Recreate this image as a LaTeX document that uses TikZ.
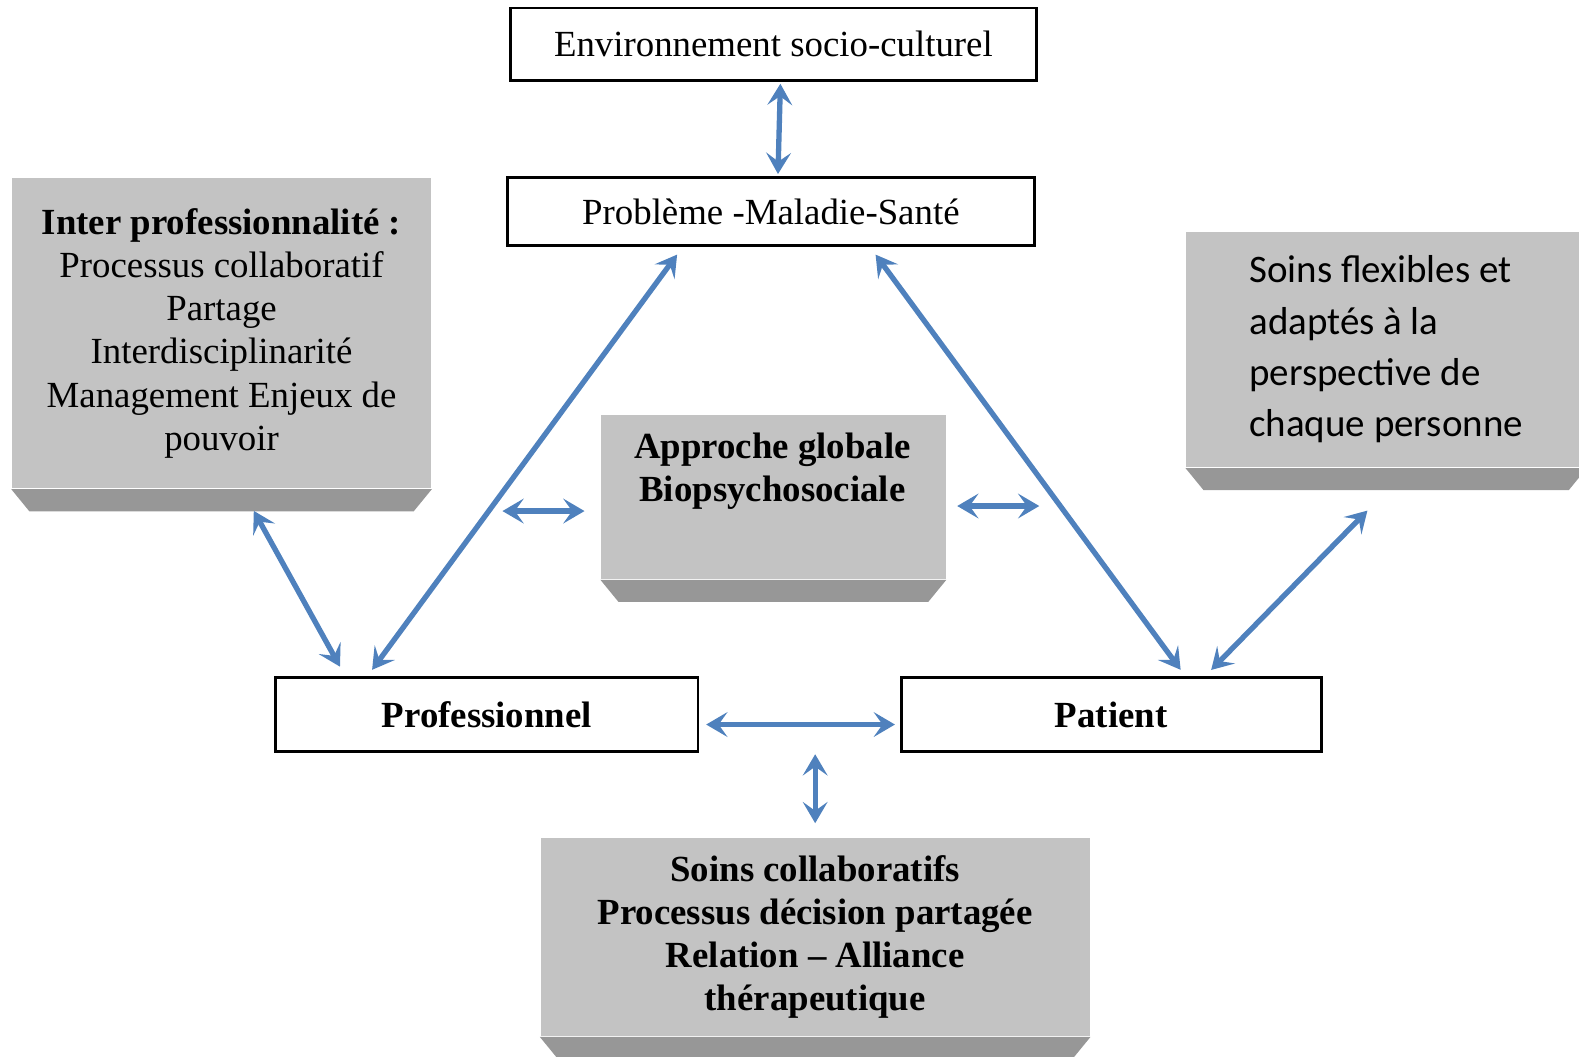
\documentclass[tikz,border=0pt]{standalone}
\usepackage{fontspec}
\setmainfont{Liberation Serif}
\newfontfamily\calibrifont{Carlito}
\usetikzlibrary{positioning,arrows.meta,calc}
\definecolor{arrowblue}{HTML}{4F81BD}
\definecolor{boxgray}{HTML}{C3C3C3}
\definecolor{bevelgray}{HTML}{979797}

\begin{document}
\begin{tikzpicture}[
    x=0.01cm, y=-0.01cm,
    whitebox/.style={draw, thick, fill=white, inner sep=0pt,
                     font=\fontsize{10.4}{12.2}\selectfont},
    graybox/.style={fill=boxgray, inner sep=0pt, align=center,
                    font=\fontsize{10.4}{12.2}\selectfont},
    link/.style={arrowblue, line width=1.5pt,
                 {Stealth[length=6pt,width=7pt,inset=2.5pt]}-{Stealth[length=6pt,width=7pt,inset=2.5pt]},
                 shorten <=0.5pt, shorten >=0.5pt},
]
\useasboundingbox (0,0) rectangle (1568,1049);

% white boxes
\node[whitebox, minimum width=5.22cm, minimum height=0.72cm] (env) at (768,44)
    {Environnement socio-culturel};
\node[whitebox, minimum width=5.23cm, minimum height=0.68cm] (prob) at (765.5,210)
    {Problème -Maladie-Santé};
\node[whitebox, minimum width=4.19cm, minimum height=0.73cm] (prof) at (483.5,709.5)
    {\textbf{Professionnel}};
\node[whitebox, minimum width=4.17cm, minimum height=0.73cm] (patient) at (1103.5,709.5)
    {\textbf{Patient}};

% gray boxes
\node[graybox, minimum width=4.16cm, minimum height=3.08cm] (inter) at (220,331)
    {\textbf{Inter professionnalité :}\\Processus collaboratif\\Partage\\
     Interdisciplinarité\\Management Enjeux de\\pouvoir};
\node[graybox, minimum width=3.42cm, minimum height=1.63cm] (approche) at (768,493.5) {};
\node[font=\fontsize{10.4}{12.2}\selectfont\bfseries, align=center, inner sep=0pt]
    (approche-t) at (767,468) {Approche globale\\Biopsychosociale};
\node[graybox, align=left, minimum width=3.97cm, minimum height=2.34cm,
      font=\calibrifont\fontsize{11}{14.5}\selectfont] (flex) at (1376.5,347)
    {Soins flexibles et\\adaptés à la\\perspective de\\chaque personne};
\node[graybox, minimum width=5.45cm, minimum height=1.97cm,
      font=\fontsize{10.4}{12.2}\selectfont\bfseries] (soins) at (809.5,930.5)
    {Soins collaboratifs\\Processus décision partagée\\Relation -- Alliance\\thérapeutique};

% bevels
\foreach \b in {inter,approche,flex,soins}
  \fill[bevelgray] (\b.south west) -- (\b.south east)
    -- ($(\b.south east)+(-18,22)$) -- ($(\b.south west)+(18,22)$) -- cycle;

% arrows
\draw[link] ([xshift=0.07cm]env.south) -- ([xshift=0.07cm]prob.north);
\draw[link] ($(prob.south west)+(171,6)$) -- ($(prof.north west)+(96,-5)$);
\draw[link] ($(prob.south west)+(366,6)$) -- ($(patient.north west)+(280,-5)$);
\draw[link] ($(inter.south west)+(240,20)$) -- ($(prof.north west)+(66,-8)$);
\draw[link] ($(approche.west)+(-99,14)$) -- ($(approche.west)+(-14,14)$);
\draw[link] ($(approche.east)+(9,9)$) -- ($(approche.east)+(94,9)$);
\draw[link] ($(flex.south west)+(182,41)$) -- ($(patient.north west)+(308,-5)$);
\draw[link] ($(prof.east)+(5,10)$) -- ($(patient.west)+(-3,10)$);
\draw[link] ($(soins.north)+(0,-84)$) -- ($(soins.north)+(0,-12)$);
\end{tikzpicture}
\end{document}
